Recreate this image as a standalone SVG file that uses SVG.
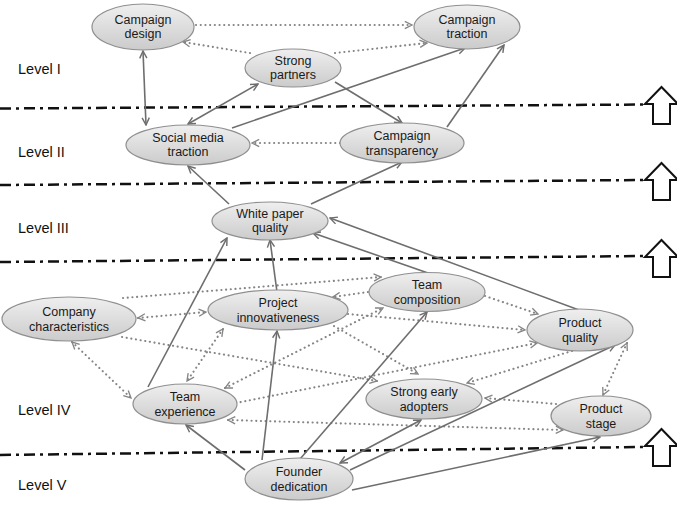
<svg xmlns="http://www.w3.org/2000/svg" width="677" height="505" viewBox="0 0 677 505">
<style>
.nd{fill:url(#ng);stroke:#8f8f8f;stroke-width:1.2}
.nt{font-family:"Liberation Sans",Arial,sans-serif;font-size:12.5px;fill:#1a1a1a;text-anchor:middle}
.lv{font-family:"Liberation Sans",Arial,sans-serif;font-size:14.5px;fill:#111}
.sep{stroke:#111;stroke-width:2.5;stroke-dasharray:11 5 3 5;fill:none}
.up{fill:#fff;stroke:#111;stroke-width:2;stroke-linejoin:miter}
.s{stroke:#6e6e6e;stroke-width:1.6;fill:none;marker-end:url(#ms)}
.s2{stroke:#6e6e6e;stroke-width:1.6;fill:none;marker-end:url(#ms);marker-start:url(#ms)}
.d{stroke:#858585;stroke-width:2.1;stroke-dasharray:0.1 4.6;stroke-linecap:round;fill:none;marker-end:url(#md)}
.d2{stroke:#858585;stroke-width:2.1;stroke-dasharray:0.1 4.6;stroke-linecap:round;fill:none;marker-end:url(#md);marker-start:url(#md)}
</style>
<defs>
<linearGradient id="ng" x1="0" y1="0" x2="0" y2="1">
<stop offset="0" stop-color="#efefef"/>
<stop offset="1" stop-color="#cbcbcb"/>
</linearGradient>
<marker id="ms" viewBox="0 0 10 10" refX="9" refY="5" markerWidth="9" markerHeight="9" markerUnits="userSpaceOnUse" orient="auto-start-reverse">
<path d="M1,1 L9,5 L1,9" fill="none" stroke="#6e6e6e" stroke-width="1.6"/>
</marker>
<marker id="md" viewBox="0 0 10 10" refX="9" refY="5" markerWidth="9" markerHeight="9" markerUnits="userSpaceOnUse" orient="auto-start-reverse">
<path d="M1,1 L9,5 L1,9" fill="none" stroke="#858585" stroke-width="1.5"/>
</marker>
</defs>
<rect width="677" height="505" fill="#fff"/>
<g id="levels">
<line class="sep" x1="0" y1="108.5" x2="645" y2="104.5"/>
<line class="sep" x1="0" y1="185" x2="645" y2="180"/>
<line class="sep" x1="0" y1="262" x2="645" y2="256"/>
<line class="sep" x1="0" y1="455" x2="645" y2="447"/>
<polygon class="up" points="661.5,87 678,104 670,104 670,124 653,124 653,104 645,104"/>
<polygon class="up" points="661.5,163 678,180 670,180 670,200 653,200 653,180 645,180"/>
<polygon class="up" points="661.5,240 678,257 670,257 670,277 653,277 653,257 645,257"/>
<polygon class="up" points="661.5,429 678,446 670,446 670,466 653,466 653,446 645,446"/>
<text class="lv" x="18" y="74">Level I</text>
<text class="lv" x="18" y="157">Level II</text>
<text class="lv" x="18" y="233">Level III</text>
<text class="lv" x="18" y="415">Level IV</text>
<text class="lv" x="18" y="490">Level V</text>
</g>
<g id="connectors">
<line class="d" x1="196" y1="25" x2="412" y2="25"/>
<line class="d" x1="250" y1="53" x2="183" y2="42"/>
<line class="d" x1="335" y1="53" x2="427" y2="43"/>
<line class="d" x1="340" y1="143" x2="252" y2="143"/>
<line class="d" x1="123" y1="298" x2="381" y2="277"/>
<line class="d2" x1="138" y1="318" x2="206" y2="312"/>
<line class="d" x1="122" y1="337" x2="377" y2="381"/>
<line class="d2" x1="72" y1="342" x2="131" y2="398"/>
<line class="d2" x1="223" y1="329" x2="187" y2="381"/>
<line class="d" x1="368" y1="292" x2="333" y2="297"/>
<line class="d2" x1="225" y1="388" x2="383" y2="308"/>
<line class="d" x1="348" y1="314" x2="525" y2="330"/>
<line class="d" x1="485" y1="296" x2="538" y2="314"/>
<line class="d" x1="334" y1="326" x2="418" y2="374"/>
<line class="d" x1="236" y1="403" x2="537" y2="343"/>
<line class="d" x1="572" y1="351" x2="467" y2="383"/>
<line class="d" x1="556" y1="404" x2="485" y2="398"/>
<line class="d2" x1="228" y1="420" x2="563" y2="430"/>
<line class="d2" x1="627" y1="343" x2="603" y2="395"/>
<line class="s2" x1="143" y1="51" x2="146" y2="125"/>
<line class="s2" x1="188" y1="124" x2="258" y2="84"/>
<line class="s" x1="232" y1="128" x2="465" y2="48"/>
<line class="s" x1="335" y1="82" x2="402" y2="123"/>
<line class="s" x1="447" y1="127" x2="504" y2="45"/>
<line class="s" x1="229" y1="204" x2="188" y2="166"/>
<line class="s" x1="311" y1="204" x2="402" y2="162"/>
<line class="s" x1="148" y1="387" x2="227" y2="238"/>
<line class="s" x1="277" y1="292" x2="270" y2="240"/>
<line class="s" x1="428" y1="273" x2="313" y2="233"/>
<line class="s" x1="579" y1="310" x2="330" y2="218"/>
<line class="s" x1="245" y1="470" x2="186" y2="425"/>
<line class="s" x1="262" y1="460" x2="277" y2="331"/>
<line class="s" x1="300" y1="459" x2="427" y2="312"/>
<line class="s2" x1="340" y1="463" x2="421" y2="420"/>
<line class="s" x1="350" y1="470" x2="615" y2="345"/>
<line class="s" x1="352" y1="490" x2="600" y2="437"/>
</g>
<g id="campaign-design"><ellipse class="nd" cx="143" cy="27" rx="51" ry="23"/><text class="nt" x="143" y="24">Campaign</text><text class="nt" x="143" y="38">design</text></g>
<g id="campaign-traction"><ellipse class="nd" cx="467" cy="27" rx="53" ry="22"/><text class="nt" x="467" y="24">Campaign</text><text class="nt" x="467" y="38">traction</text></g>
<g id="strong-partners"><ellipse class="nd" cx="293" cy="68" rx="48" ry="19"/><text class="nt" x="293" y="65">Strong</text><text class="nt" x="293" y="79">partners</text></g>
<g id="social-media-traction"><ellipse class="nd" cx="188" cy="145" rx="62" ry="20"/><text class="nt" x="188" y="142">Social media</text><text class="nt" x="188" y="156">traction</text></g>
<g id="campaign-transparency"><ellipse class="nd" cx="402" cy="143" rx="62" ry="20"/><text class="nt" x="402" y="140">Campaign</text><text class="nt" x="402" y="155">transparency</text></g>
<g id="white-paper-quality"><ellipse class="nd" cx="270" cy="221" rx="58" ry="19"/><text class="nt" x="270" y="218">White paper</text><text class="nt" x="270" y="232">quality</text></g>
<g id="company-characteristics"><ellipse class="nd" cx="69" cy="319" rx="67" ry="22"/><text class="nt" x="69" y="316">Company</text><text class="nt" x="69" y="331">characteristics</text></g>
<g id="project-innovativeness"><ellipse class="nd" cx="278" cy="310" rx="70" ry="20"/><text class="nt" x="278" y="307">Project</text><text class="nt" x="278" y="322">innovativeness</text></g>
<g id="team-composition"><ellipse class="nd" cx="427" cy="292" rx="58" ry="19.5"/><text class="nt" x="427" y="289">Team</text><text class="nt" x="427" y="304">composition</text></g>
<g id="product-quality"><ellipse class="nd" cx="580" cy="330" rx="53" ry="21"/><text class="nt" x="580" y="327">Product</text><text class="nt" x="580" y="342">quality</text></g>
<g id="team-experience"><ellipse class="nd" cx="185" cy="404" rx="52" ry="20"/><text class="nt" x="185" y="401">Team</text><text class="nt" x="185" y="416">experience</text></g>
<g id="strong-early-adopters"><ellipse class="nd" cx="424" cy="399" rx="58" ry="20"/><text class="nt" x="424" y="396">Strong early</text><text class="nt" x="424" y="411">adopters</text></g>
<g id="product-stage"><ellipse class="nd" cx="601" cy="416" rx="50" ry="20"/><text class="nt" x="601" y="413">Product</text><text class="nt" x="601" y="428">stage</text></g>
<g id="founder-dedication"><ellipse class="nd" cx="299" cy="479" rx="54" ry="21"/><text class="nt" x="299" y="476">Founder</text><text class="nt" x="299" y="491">dedication</text></g>
</svg>
